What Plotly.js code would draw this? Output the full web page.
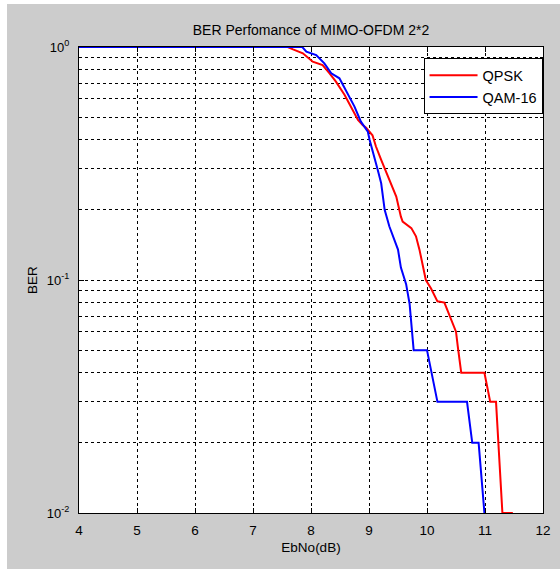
<!DOCTYPE html>
<html>
<head>
<meta charset="utf-8">
<script src="https://cdn.plot.ly/plotly-3.0.1.min.js"></script>
<style>
html,body{margin:0;padding:0;background:#ffffff;}
#chart{position:absolute;left:7px;top:4px;width:553px;height:565px;}
</style>
</head>
<body>
<div id="chart"></div>
<script>
// Eb/No (dB) and BER
const qpskX = [4, 7.6, 7.69, 7.86, 8.03, 8.20, 8.32, 8.43, 8.58, 8.69, 8.81, 8.89, 8.95, 9.06, 9.12, 9.21, 9.33, 9.47, 9.55, 9.58, 9.73, 9.81, 9.87, 9.98, 10.07, 10.18, 10.30, 10.39, 10.50, 10.53, 10.59, 10.99, 11.09, 11.19, 11.30, 11.48];
const qpskY = [1, 1, 0.977, 0.94, 0.865, 0.837, 0.771, 0.71, 0.622, 0.555, 0.486, 0.463, 0.45, 0.418, 0.374, 0.328, 0.277, 0.228, 0.187, 0.178, 0.167, 0.154, 0.135, 0.10, 0.092, 0.081, 0.080, 0.0705, 0.060, 0.052, 0.04, 0.04, 0.03, 0.03, 0.01, 0.01];

const qamX = [4, 7.85, 7.92, 8.09, 8.23, 8.35, 8.49, 8.63, 8.75, 8.86, 8.92, 8.98, 9.01, 9.06, 9.15, 9.21, 9.27, 9.35, 9.50, 9.55, 9.64, 9.70, 9.73, 9.77, 10.0, 10.18, 10.69, 10.78, 10.89, 10.99];
const qamY = [1, 1, 0.955, 0.924, 0.851, 0.771, 0.734, 0.633, 0.555, 0.478, 0.456, 0.433, 0.40, 0.362, 0.297, 0.26, 0.20, 0.17, 0.135, 0.113, 0.096, 0.079, 0.066, 0.05, 0.05, 0.03, 0.03, 0.02, 0.02, 0.01];

const seriesNames = ["QPSK", "QAM-16"];
const xTicks = [4, 5, 6, 7, 8, 9, 10, 11, 12];
const yTicks = [0.01, 0.1, 1];
const yTickText = ["10<sup>-2</sup>", "10<sup>-1</sup>", "10<sup>0</sup>"];
const yMinor = [0.02,0.03,0.04,0.05,0.06,0.07,0.08,0.09,0.2,0.3,0.4,0.5,0.6,0.7,0.8,0.9];

const fam = "Liberation Sans, Arial, sans-serif";

const traces = [
  {x: qpskX, y: qpskY, name: seriesNames[0], type: "scatter", mode: "lines",
   line: {color: "#ff0000", width: 2}},
  {x: qamX, y: qamY, name: seriesNames[1], type: "scatter", mode: "lines",
   line: {color: "#0000ff", width: 2}}
];

const layout = {
  width: 553, height: 565,
  paper_bgcolor: "#cccccc",
  plot_bgcolor: "#ffffff",
  font: {family: fam, color: "#000000", size: 13},
  margin: {l: 72, r: 16.5, t: 43, b: 55.5, pad: 0},
  title: {text: "BER Perfomance of MIMO-OFDM 2*2", font: {family: fam, size: 14, color: "#000"},
          x: 0.5, xref: "paper", y: 0.953, yref: "container", yanchor: "middle"},
  showlegend: true,
  legend: {x: 0.999, y: 0.9758, xanchor: "right", yanchor: "top",
           bgcolor: "#ffffff", bordercolor: "#000000", borderwidth: 1,
           font: {family: fam, size: 14.5, color: "#000"},
           traceorder: "normal", itemwidth: 48},
  xaxis: {
    range: [4, 12], tickvals: xTicks, ticks: "inside", ticklen: 5, tickcolor: "#000",
    showline: true, linecolor: "#000", linewidth: 1, mirror: "ticks",
    showgrid: true, gridcolor: "#000", gridwidth: 1, griddash: "3px,3px",
    zeroline: false, fixedrange: true, ticklabelstandoff: 5,
    tickfont: {family: fam, size: 13.5, color: "#000"},
    title: {text: "EbNo(dB)", font: {family: fam, size: 13.5, color: "#000"}, standoff: 5}
  },
  yaxis: {
    type: "log", range: [-2, 0], tickmode: "array", tickvals: yTicks, ticktext: yTickText,
    ticks: "inside", ticklen: 5, tickcolor: "#000",
    showline: true, linecolor: "#000", linewidth: 1, mirror: "ticks",
    showgrid: true, gridcolor: "#000", gridwidth: 1, griddash: "3px,3px",
    minor: {tickmode: "array", tickvals: yMinor, ticks: "inside", ticklen: 3, tickcolor: "#000",
            showgrid: true, gridcolor: "#000", gridwidth: 1, griddash: "3px,3px"},
    zeroline: false, fixedrange: true, ticklabelstandoff: 6,
    tickfont: {family: fam, size: 13, color: "#000"},
    title: {text: "BER", font: {family: fam, size: 13.5, color: "#000"}, standoff: 6}
  }
};

Plotly.newPlot("chart", traces, layout, {displayModeBar: false, staticPlot: true});
</script>
</body>
</html>
